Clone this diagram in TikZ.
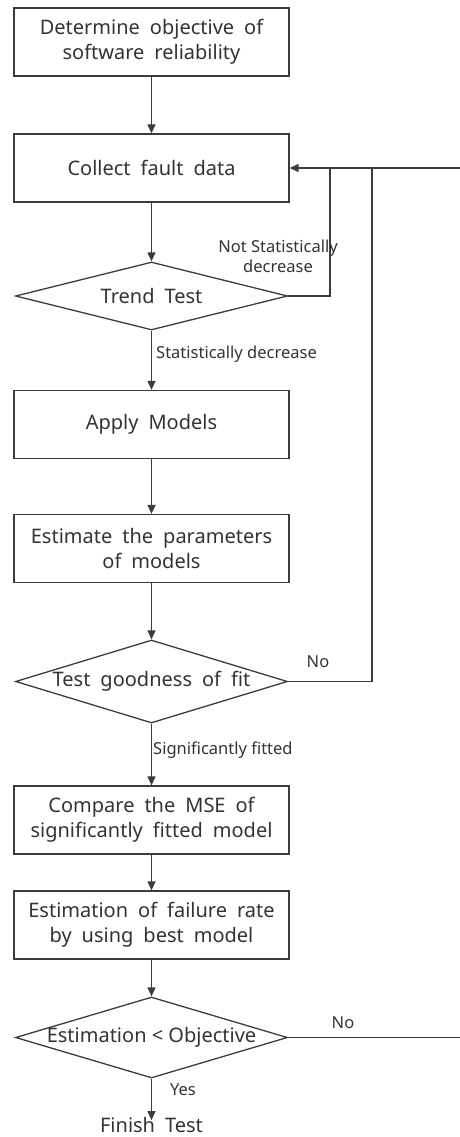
\documentclass[tikz,border=0pt]{standalone}
\usepackage{fontspec}
\setmainfont{Noto Sans}
\usetikzlibrary{shapes.geometric,arrows.meta}
\definecolor{ln}{HTML}{3C3C3C}
\definecolor{tx}{HTML}{333333}
\newcommand{\mainfnt}{\fontsize{20}{25}\selectfont\spaceskip=0.5em plus 0.1em minus 0.05em\relax}
\begin{document}
\begin{tikzpicture}[x=1pt,y=-1pt,
  every node/.style={text=tx},
  procbox/.style={draw=ln,line width=1.3pt,minimum width=275pt,minimum height=68pt,align=center,font=\mainfnt,inner sep=0pt},
  dia/.style={draw=ln,line width=1.3pt,diamond,minimum width=272pt,inner sep=0pt,label={[font=\mainfnt,text=tx]center:#1}},
  lbl/.style={font=\fontsize{16.5}{20}\selectfont,align=center,inner sep=0pt},
  arr/.style={draw=ln,line width=1.3pt,-{Triangle[width=8pt,length=9pt]}},
  ln/.style={draw=ln,line width=1.3pt}]
\useasboundingbox (0,0) rectangle (459,1137);
\node[procbox] (b1) at (151.5,42) {Determine objective of\\software reliability};
\node[procbox] (b2) at (151.5,168) {Collect fault data};
\node[dia={Trend Test},minimum height=68pt] (d1) at (151.5,296) {};
\node[procbox] (b3) at (151.5,424.5) {Apply Models};
\node[procbox] (b4) at (151.5,548.5) {Estimate the parameters\\of models};
\node[dia={Test goodness of fit},minimum height=83pt] (d2) at (151.5,681.5) {};
\node[procbox] (b5) at (151.5,820) {Compare the MSE of\\significantly fitted model};
\node[procbox] (b6) at (151.5,925) {Estimation of failure rate\\by using best model};
\node[dia={\spaceskip=0pt\relax Estimation < Objective},minimum height=81pt] (d3) at (151.5,1037.5) {};
\node[font=\mainfnt,inner sep=0pt] (fin) at (151.5,1125) {Finish Test};

\coordinate (j1) at (330,168);
\coordinate (j2) at (372,168);
\coordinate (j3) at (372,681.5);
\coordinate (r1) at (462,1037.5);
\coordinate (r2) at (462,168);

\draw[arr] (b1) -- (b2);
\draw[arr] (b2) -- (d1);
\draw[arr] (d1) -- (b3);
\draw[arr] (b3) -- (b4);
\draw[arr] (b4) -- (d2);
\draw[arr] (d2) -- (b5);
\draw[arr] (b5) -- (b6);
\draw[arr] (b6) -- (d3);
\draw[arr] (d3.south) -- ([yshift=-3pt]fin.north);
\draw[ln] (d1.east) -| (j1);
\draw[ln] (d2.east) -- (j3) -- (j2);
\draw[arr] (d3.east) -- (r1) -- (r2) -- (b2.east);

\node[lbl] at (278,256) {Not Statistically\\decrease};
\node[lbl,anchor=west] at (156,354) {Statistically decrease};
\node[lbl] at (318,662) {No};
\node[lbl,anchor=west] at (153,750) {Significantly fitted};
\node[lbl] at (343,1023) {No};
\node[lbl] at (183,1090) {Yes};
\end{tikzpicture}
\end{document}
